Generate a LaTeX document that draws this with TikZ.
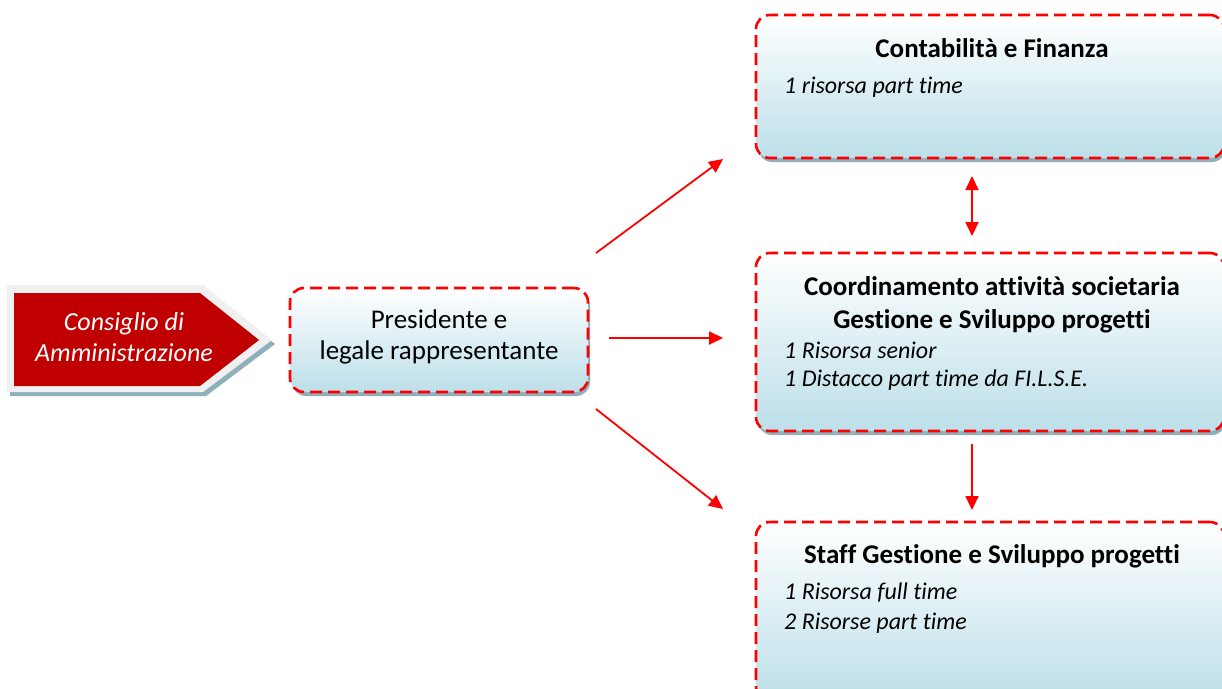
\documentclass[tikz,border=0pt]{standalone}
\usepackage{fontspec}
\setmainfont{Carlito}[Ligatures=NoCommon]
\usetikzlibrary{arrows.meta,shadows}
\definecolor{boxblue}{HTML}{BCDFE9}
\definecolor{shadowblue}{HTML}{8FAFBB}
\definecolor{darkred}{HTML}{C00000}
\definecolor{palegrey}{HTML}{F0F0F0}
\definecolor{linered}{HTML}{FF0000}
\tikzset{
  orgbox/.style={rectangle, rounded corners=14pt, draw=linered, line width=2.6pt,
    dash pattern=on 12pt off 6pt, top color=white, bottom color=boxblue,
    general shadow={fill=shadowblue, shadow xshift=2pt, shadow yshift=-4pt},
    inner sep=0pt},
  conn/.style={draw=linered, line width=1.8pt, -{Triangle[length=14pt,width=13pt]}},
  dconn/.style={draw=linered, line width=1.8pt, {Triangle[length=14pt,width=13pt]}-{Triangle[length=14pt,width=13pt]}},
  titletxt/.style={font=\fontsize{27}{32.5}\selectfont\bfseries, align=center, inner sep=0pt},
  itemtxt/.style={font=\fontsize{24}{28.5}\selectfont\itshape, align=left, anchor=west, inner sep=0pt},
  plaintxt/.style={font=\fontsize{27}{31.5}\selectfont, align=center, inner sep=0pt},
}
\begin{document}
\begin{tikzpicture}[x=1pt,y=-1pt]
\useasboundingbox (0,0) rectangle (1222,688);
\clip (0,0) rectangle (1222,688);
% Consiglio arrow shape
\fill[shadowblue] (10,289) -- (206,289) -- (275,344) -- (206,396) -- (10,396) -- cycle;
\fill[palegrey] (7,285) -- (203,285) -- (272,340) -- (203,392) -- (7,392) -- cycle;
\fill[darkred] (14,293) -- (200,293) -- (259,340) -- (200,386) -- (14,386) -- cycle;
\node[font=\fontsize{26}{31.5}\selectfont\itshape, text=white, align=center, inner sep=0pt] (cda) at (124,337) {Consiglio di\\Amministrazione};
% boxes
\node[orgbox, minimum width=298pt, minimum height=104pt] (pres) at (439,340) {};
\node[plaintxt] (prestxt) at (439,337) {Presidente e\\legale rappresentante};
\node[orgbox, minimum width=468pt, minimum height=143pt] (cont) at (990,86.5) {};
\node[titletxt] (conttitle) at (992,48) {Contabilità e Finanza};
\node[itemtxt] (contitem) at (784,87) {1 risorsa part time};
\node[orgbox, minimum width=468pt, minimum height=178pt] (coord) at (990,342) {};
\node[titletxt] (coordtitle) at (992,305) {Coordinamento attività societaria\\Gestione e Sviluppo progetti};
\node[itemtxt] (coorditems) at (784,366) {1 Risorsa senior\\1 Distacco part time da FI.L.S.E.};
\node[orgbox, minimum width=468pt, minimum height=178pt] (staff) at (990,611) {};
\node[titletxt] (stafftitle) at (992,556) {Staff Gestione e Sviluppo progetti};
\node[itemtxt, font=\fontsize{24}{30}\selectfont\itshape] (staffitems) at (784,608) {1 Risorsa full time\\2 Risorse part time};
% connector endpoints
\coordinate (a1s) at (596,253);
\coordinate (a1e) at (723,159);
\coordinate (a2s) at (609,338);
\coordinate (a2e) at (723,338);
\coordinate (a3s) at (596,409);
\coordinate (a3e) at (723,509);
\coordinate (d1s) at (972,176);
\coordinate (d1e) at (972,236);
\coordinate (v1s) at (972,444);
\coordinate (v1e) at (972,510);
\draw[conn] (a1s) -- (a1e);
\draw[conn] (a2s) -- (a2e);
\draw[conn] (a3s) -- (a3e);
\draw[dconn] (d1s) -- (d1e);
\draw[conn] (v1s) -- (v1e);
\end{tikzpicture}
\end{document}
